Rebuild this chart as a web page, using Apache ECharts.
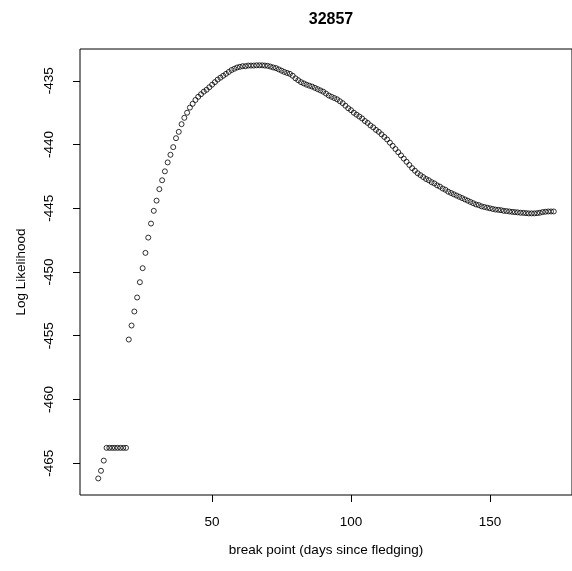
<!DOCTYPE html>
<html>
<head>
<meta charset="utf-8">
<script src="https://cdn.jsdelivr.net/npm/echarts@6/dist/echarts.min.js"></script>
<style>html,body{margin:0;padding:0;background:#fff;}#c{width:572px;height:571px;}</style>
</head>
<body>
<div id="c"></div>
<script>
const chartTitle = '32857';
const xTitle = 'break point (days since fledging)';
const yTitle = 'Log Likelihood';
const xTicks = [50, 100, 150];
const yTicks = [-465, -460, -455, -450, -445, -440, -435];
const breakDays = [];
for (let d = 9; d <= 173; d++) breakDays.push(d);
const logLik = [
  -466.2, -465.6, -464.8,
  -463.8, -463.8, -463.8, -463.8, -463.8, -463.8, -463.8, -463.8,
  -455.3, -454.2, -453.1, -452.0, -450.8, -449.7, -448.5, -447.3, -446.2,
  -445.2, -444.4, -443.5, -442.8, -442.1, -441.4, -440.8, -440.2, -439.5, -439.0,
  -438.4, -437.9, -437.5, -437.1, -436.8, -436.5, -436.25, -436.05, -435.85, -435.7,
  -435.5, -435.3, -435.1, -434.9, -434.75, -434.6, -434.45, -434.3, -434.15, -434.05,
  -433.95, -433.9, -433.85, -433.85, -433.8, -433.8, -433.8, -433.78, -433.78, -433.78,
  -433.8, -433.82, -433.88, -433.95, -434.0, -434.1, -434.2, -434.3, -434.38, -434.45,
  -434.6, -434.8, -434.95, -435.1, -435.2, -435.3, -435.38, -435.45, -435.55, -435.65,
  -435.75, -435.85, -436.0, -436.15, -436.25, -436.35, -436.45, -436.6, -436.75, -436.95,
  -437.15, -437.3, -437.5, -437.65, -437.8, -437.95, -438.15, -438.3, -438.5, -438.65,
  -438.85, -439.0, -439.2, -439.4, -439.6, -439.85, -440.1, -440.35, -440.6, -440.85,
  -441.1, -441.35, -441.6, -441.85, -442.05, -442.25, -442.4, -442.55, -442.7, -442.8,
  -442.95, -443.05, -443.2, -443.3, -443.45, -443.55, -443.7, -443.8, -443.9, -444.0,
  -444.1, -444.2, -444.3, -444.4, -444.5, -444.6, -444.7, -444.75, -444.85, -444.9,
  -444.95, -445.0, -445.05, -445.1, -445.12, -445.15, -445.2, -445.22, -445.25, -445.28,
  -445.3, -445.32, -445.35, -445.36, -445.38, -445.4, -445.4, -445.4, -445.38, -445.35,
  -445.3, -445.27, -445.25, -445.25, -445.25
];
const points = breakDays.map((d, i) => [d, logLik[i]]);

const font = 'Liberation Sans, Arial, Helvetica, sans-serif';
const chart = echarts.init(document.getElementById('c'), null, {renderer: 'canvas'});
chart.setOption({
  animation: false,
  backgroundColor: '#fff',
  title: {
    text: chartTitle,
    left: 326, top: 7, textAlign: 'center',
    textStyle: {fontFamily: font, fontSize: 16, fontWeight: 'bold', color: '#000'}
  },
  grid: {
    left: 80, top: 49, width: 496, height: 446,
    show: true, borderColor: '#000', borderWidth: 1, backgroundColor: 'transparent'
  },
  xAxis: {
    type: 'value', min: 2.44, max: 179.56,
    name: xTitle, nameLocation: 'middle', nameGap: 48,
    nameTextStyle: {fontFamily: font, fontSize: 13.5, color: '#000'},
    axisLine: {show: false},
    splitLine: {show: false},
    axisTick: {show: true, length: 7, customValues: xTicks, lineStyle: {color: '#000'}},
    axisLabel: {customValues: xTicks, margin: 20, fontFamily: font, fontSize: 13.5, color: '#000'}
  },
  yAxis: {
    type: 'value', min: -467.5, max: -432.5,
    name: yTitle, nameLocation: 'middle', nameGap: 52, nameRotate: 90,
    nameTextStyle: {fontFamily: font, fontSize: 13.5, color: '#000'},
    axisLine: {show: false},
    splitLine: {show: false},
    axisTick: {show: true, length: 7, customValues: yTicks, lineStyle: {color: '#000'}},
    axisLabel: {customValues: yTicks, rotate: 90, margin: 24, fontFamily: font, fontSize: 13.5, color: '#000'}
  },
  series: [{
    type: 'scatter',
    data: points,
    symbol: 'circle',
    symbolSize: 5,
    itemStyle: {color: 'rgba(0,0,0,0)', borderColor: '#000', borderWidth: 1}
  }]
});
</script>
</body>
</html>
